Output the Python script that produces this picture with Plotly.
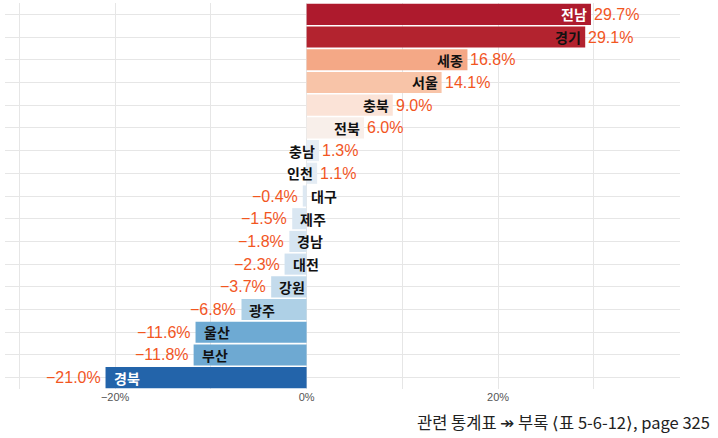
import plotly.graph_objects as go

regions = ["전남", "경기", "세종", "서울", "충북", "전북", "충남", "인천", "대구",
           "제주", "경남", "대전", "강원", "광주", "울산", "부산", "경북"]
values = [29.7, 29.1, 16.8, 14.1, 9.0, 6.0, 1.3, 1.1, -0.4,
          -1.5, -1.8, -2.3, -3.7, -6.8, -11.6, -11.8, -21.0]
value_labels = ["29.7%", "29.1%", "16.8%", "14.1%", "9.0%", "6.0%", "1.3%", "1.1%", "−0.4%",
                "−1.5%", "−1.8%", "−2.3%", "−3.7%", "−6.8%", "−11.6%", "−11.8%", "−21.0%"]
tick_vals = [-20, 0, 20]
tick_text = ["−20%", "0%", "20%"]
caption = "관련 통계표 ↠ 부록 ⟨표 5-6-12⟩, page 325"

bar_colors = ["#ae1a2d", "#b3232f", "#f4a886", "#f8c4a8", "#fbe3d7", "#f8efea",
              "#e6edf5", "#e4ecf4", "#dde8f2", "#dae7f2", "#d6e5f1", "#d1e2f0",
              "#c4dbec", "#aed0e6", "#6eaad3", "#6ea9d2", "#2364aa"]
name_colors = ["white", "#111111"] + ["#111111"] * 14 + ["white"]

KFONT = "Noto Sans CJK KR"
NUMFONT = "Liberation Sans"
VALUE_COLOR = "#f2561f"
GRID = "#e6e6e6"

fig = go.Figure()
fig.add_trace(go.Bar(
    x=values, y=regions, orientation="h",
    marker=dict(color=bar_colors, line=dict(width=0)),
    hoverinfo="skip", showlegend=False,
))

annotations = []
for r, v, lab, nc in zip(regions, values, value_labels, name_colors):
    pos = v >= 0
    # region name, just inside the bar end
    annotations.append(dict(
        x=v, y=r, xref="x", yref="y", text=r, showarrow=False,
        xanchor="right" if pos else "left", xshift=-2 if pos else 6,
        font=dict(family=KFONT, size=14, weight="bold", color=nc),
    ))
    # value, just outside the bar end
    annotations.append(dict(
        x=v, y=r, xref="x", yref="y", text=lab, showarrow=False,
        xanchor="left" if pos else "right", xshift=1 if pos else -3,
        font=dict(family=NUMFONT, size=16, color=VALUE_COLOR),
    ))
annotations.append(dict(
    text=caption, x=1.047, y=-0.085, xref="paper", yref="paper",
    xanchor="right", yanchor="middle", showarrow=False,
    font=dict(family=KFONT, size=16.5, color="#222222"),
))

fig.update_layout(
    width=718, height=438,
    margin=dict(l=5, r=38, t=3, b=49),
    paper_bgcolor="white", plot_bgcolor="white",
    bargap=0.07,
    font=dict(family=KFONT),
    xaxis=dict(range=[-31.5, 39], tickvals=tick_vals, ticktext=tick_text,
               showgrid=True, gridcolor=GRID, gridwidth=1,
               minor=dict(dtick=10, tick0=0, showgrid=True, gridcolor=GRID),
               zeroline=False, showline=False, ticks="",
               tickfont=dict(family="Liberation Sans Narrow, Liberation Sans", size=11, color="#555555")),
    yaxis=dict(range=[16.5, -0.5], showticklabels=False, showgrid=True,
               gridcolor=GRID, zeroline=False, ticks=""),
    annotations=annotations,
)
fig.write_html("out.html", config={"displayModeBar": False},
               post_script="document.body.style.margin='0';")
